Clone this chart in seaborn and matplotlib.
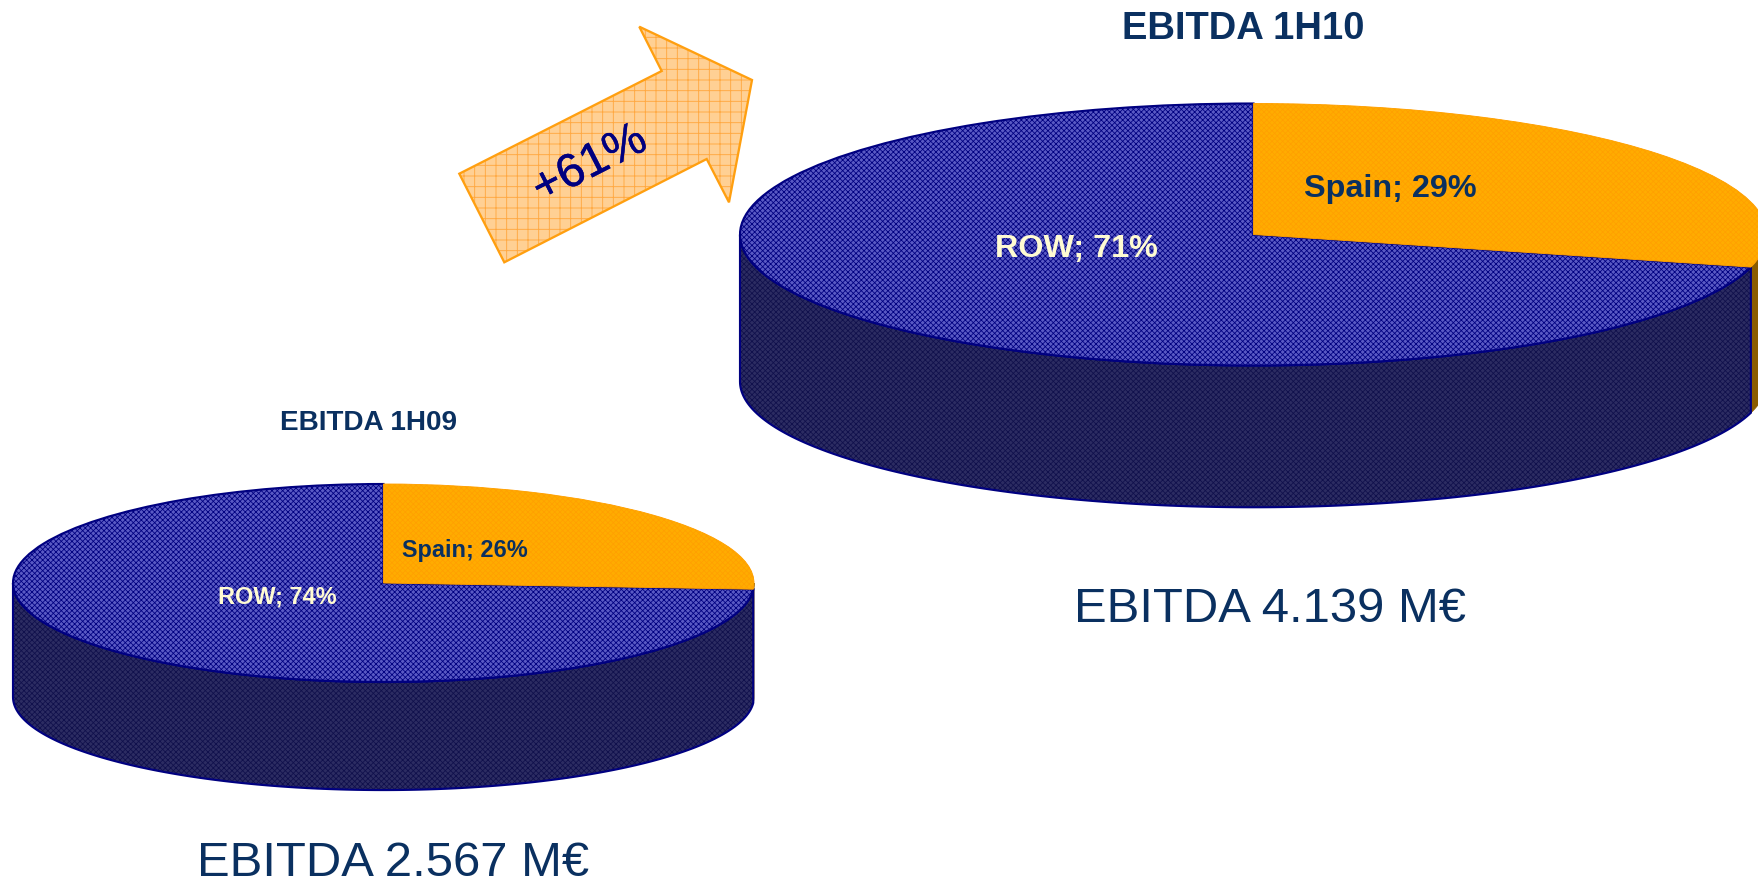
import numpy as np
import seaborn as sns
import matplotlib.pyplot as plt
import matplotlib.patheffects as pe
from matplotlib.patches import Polygon

# values
regions = ['Spain', 'ROW']
shares_1h09 = [26, 74]
shares_1h10 = [29, 71]
growth_label = '+61%'
title_1h09 = 'EBITDA 1H09'
title_1h10 = 'EBITDA 1H10'
total_1h09 = 'EBITDA 2.567 M€'
total_1h10 = 'EBITDA 4.139 M€'

W, H, DPI = 1758, 881, 128
NAVY = '#000080'
TITLE = '#0a3060'
CREAM = '#fffbd2'

sns.set_style('white')
plt.rcParams['font.family'] = ['Liberation Sans', 'DejaVu Sans']

fig = plt.figure(figsize=(W / DPI, H / DPI), dpi=DPI, facecolor='white')


def wall(ax, t0, t1, d, sag, **kw):
    t = np.radians(np.linspace(t0, t1, 200))
    xs = np.r_[np.cos(t), np.cos(t)[::-1]]
    ys = np.r_[np.sin(t), np.sin(t)[::-1] * sag - d]
    return ax.fill(xs, ys, clip_on=False, **kw)


def pie3d(shares, cx, cy, rx, ry, depth, sag):
    # elliptical axes, so the pie gets squashed like the 3d one
    d = depth / ry
    low = d + sag
    ax = fig.add_axes([(cx - rx) / W, 1 - (cy + ry * low) / H,
                       2 * rx / W, ry * (1 + low) / H])
    plt.rcParams['hatch.linewidth'] = 0.45

    split = 90 - 360 * shares[0] / sum(shares)
    wall(ax, split, -180, d, sag, facecolor='#2c2c62', edgecolor='#10104c',
         hatch='xxxxxxxx', lw=0, zorder=1)
    wall(ax, split, -180, d, sag, facecolor='none', edgecolor=NAVY, lw=1.2, zorder=1.1)
    wall(ax, 0, split, d, sag, facecolor='#8a5c00', edgecolor='#8a5c00', lw=0.5, zorder=0.5)

    wedges, _ = ax.pie(shares, startangle=90, counterclock=False, radius=1,
                       colors=['#ffac00', '#5a5ac4'])
    wedges[0].set(edgecolor='#ffa000', hatch='xxxxxxxx', lw=0.5, zorder=3)
    wedges[1].set(edgecolor=NAVY, hatch='xxxxxxxx', lw=1.2, zorder=2)
    ax.set_aspect('auto')
    ax.set_xlim(-1, 1)
    ax.set_ylim(-low, 1)
    ax.axis('off')
    for w in wedges:
        w.set_clip_on(False)
    return ax


pie3d(shares_1h09, 383.5, 583, 370.5, 99, 114, 0.94)
pie3d(shares_1h10, 1253.5, 234.5, 513.5, 131, 147, 0.96)

# overlay in pixels for arrow and texts
top = fig.add_axes([0, 0, 1, 1], facecolor='none')
top.set_xlim(0, W)
top.set_ylim(H, 0)
top.axis('off')

plt.rcParams['hatch.linewidth'] = 0.5
arrow = [(459.3, 173.7), (661.7, 71), (639.3, 26.7), (752, 80),
         (729, 202.3), (706.7, 159), (504.3, 262.3)]
top.add_patch(Polygon(arrow, closed=True, facecolor='#ffd094', edgecolor='#ffa840',
                      hatch='++', lw=0))
top.add_patch(Polygon(arrow, closed=True, facecolor='none', edgecolor='#ff9f10', lw=1.3))
top.text(590, 165, growth_label, color=NAVY, fontsize=26.5, rotation=27,
         rotation_mode='anchor', ha='center', va='center',
         path_effects=[pe.withStroke(linewidth=0.25, foreground=NAVY)])

top.text(1243, 29, title_1h10, color=TITLE, fontsize=21.5, fontweight='bold', ha='center', va='center')
top.text(368, 423, title_1h09, color=TITLE, fontsize=15.7, fontweight='bold', ha='center', va='center')
top.text(1270, 609, total_1h10, color=TITLE, fontsize=27.6, ha='center', va='center')
top.text(393, 863, total_1h09, color=TITLE, fontsize=27.6, ha='center', va='center')

top.text(1390, 189, f'{regions[0]}; {shares_1h10[0]}%', color=TITLE, fontsize=18.2, fontweight='bold', ha='center', va='center')
top.text(1076, 248.5, f'{regions[1]}; {shares_1h10[1]}%', color=CREAM, fontsize=18.2, fontweight='bold', ha='center', va='center')
top.text(465, 551, f'{regions[0]}; {shares_1h09[0]}%', color=TITLE, fontsize=13.2, fontweight='bold', ha='center', va='center')
top.text(277, 597, f'{regions[1]}; {shares_1h09[1]}%', color=CREAM, fontsize=13.2, fontweight='bold', ha='center', va='center')

fig.savefig('out.png', dpi=DPI)
